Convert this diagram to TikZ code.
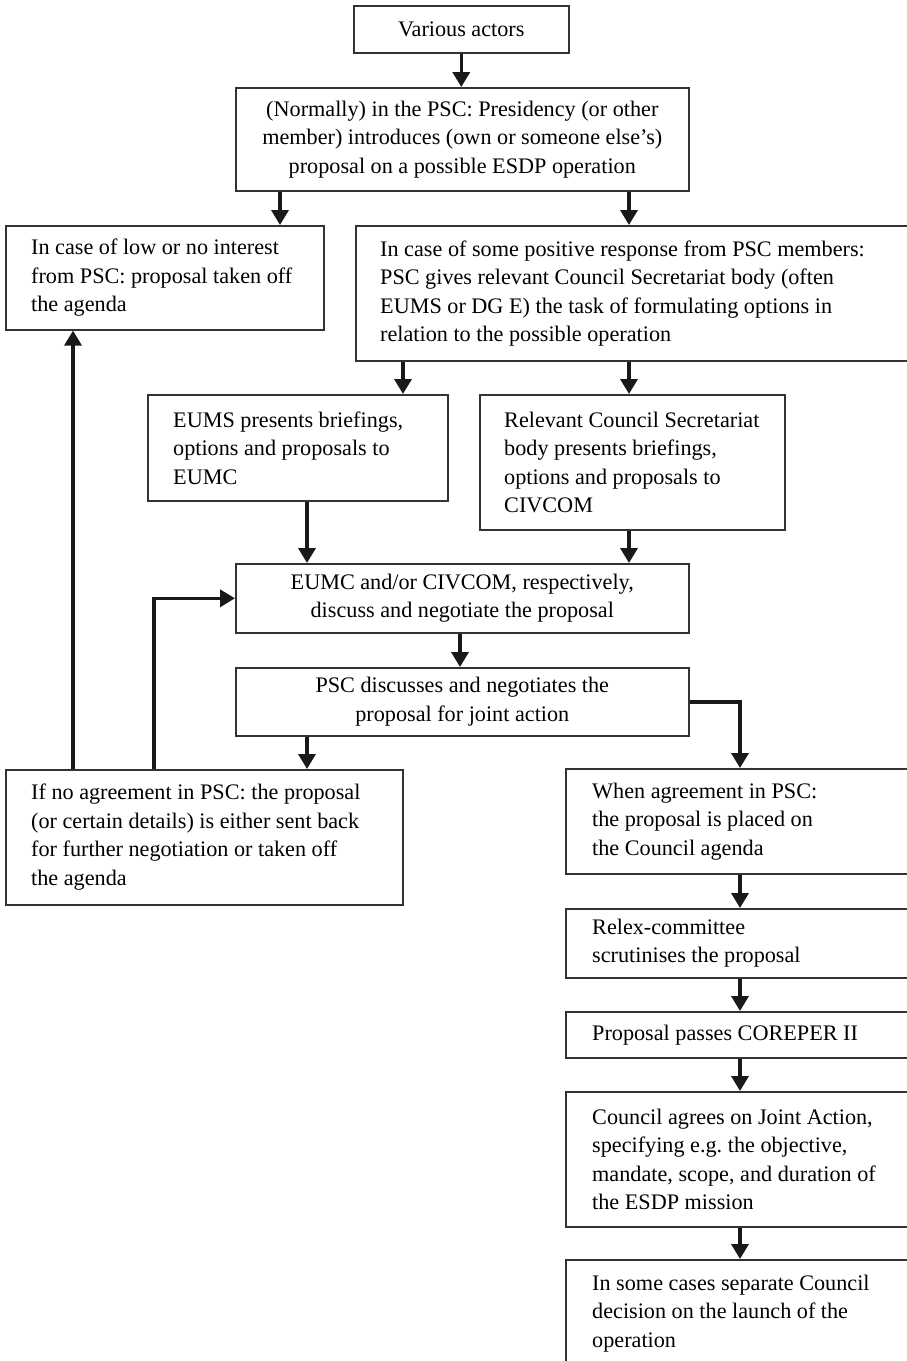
\documentclass[tikz,border=0pt]{standalone}
\usepackage{fontspec}
\setmainfont{Liberation Serif}
\usetikzlibrary{arrows.meta}
\begin{document}
\begin{tikzpicture}[x=1pt,y=-1pt,
  box/.style={draw=black!80, line width=1.6pt, rectangle, inner sep=0pt, anchor=north west},
  txt/.style={inner sep=0pt, anchor=west, align=left, font=\fontsize{22.2}{28.5}\selectfont},
  ctxt/.style={align=center, font=\fontsize{22.2}{28.5}\selectfont},
  arr/.style={line width=3.5pt, draw=black!90, -{Triangle[width=17pt,length=15pt]}},
  ln/.style={line width=3.5pt, draw=black!90}
]
\useasboundingbox (0,0) rectangle (907,1361);
\clip (0,0) rectangle (907,1361);

% boxes
\node[box, ctxt, minimum width=215pt, minimum height=47pt] (b1) at (353,5) {Various actors};
\node[box, ctxt, minimum width=453pt, minimum height=103pt] (b2) at (235,87)
  {(Normally) in the PSC: Presidency (or other\\ member) introduces (own or someone else's)\\ proposal on a possible ESDP operation};
\node[box, minimum width=318pt, minimum height=104pt] (b3) at (5,225) {};
\node[box, minimum width=580pt, minimum height=135pt] (b4) at (355,225) {};
\node[box, minimum width=300pt, minimum height=106pt] (b5) at (147,394) {};
\node[box, minimum width=305pt, minimum height=135pt] (b6) at (479,394) {};
\node[box, ctxt, minimum width=453pt, minimum height=69pt] (b7) at (235,563)
  {EUMC and/or CIVCOM, respectively,\\ discuss and negotiate the proposal};
\node[box, ctxt, minimum width=453pt, minimum height=68pt] (b8) at (235,667)
  {PSC discusses and negotiates the\\ proposal for joint action};
\node[box, minimum width=397pt, minimum height=135pt] (b9) at (5,769) {};
\node[box, minimum width=370pt, minimum height=105pt] (b10) at (565,768) {};
\node[box, minimum width=370pt, minimum height=69pt] (b11) at (565,908) {};
\node[box, minimum width=370pt, minimum height=46pt] (b12) at (565,1011) {};
\node[box, minimum width=370pt, minimum height=135pt] (b13) at (565,1091) {};
\node[box, minimum width=370pt, minimum height=107pt] (b14) at (565,1259) {};

% left-aligned texts
\node[txt] (t3) at ([xshift=26pt]b3.west) {In case of low or no interest\\ from PSC: proposal taken off\\ the agenda};
\node[txt] (t4) at ([xshift=25pt]b4.west) {In case of some positive response from PSC members:\\ PSC gives relevant Council Secretariat body (often\\ EUMS or DG E) the task of formulating options in\\ relation to the possible operation};
\node[txt] (t5) at ([xshift=26pt]b5.west) {EUMS presents briefings,\\ options and proposals to\\ EUMC};
\node[txt] (t6) at ([xshift=25pt]b6.west) {Relevant Council Secretariat\\ body presents briefings,\\ options and proposals to\\ CIVCOM};
\node[txt] (t9) at ([xshift=26pt]b9.west) {If no agreement in PSC: the proposal\\ (or certain details) is either sent back\\ for further negotiation or taken off\\ the agenda};
\node[txt] (t10) at ([xshift=27pt]b10.west) {When agreement in PSC:\\ the proposal is placed on\\ the Council agenda};
\node[txt] (t11) at ([xshift=27pt]b11.west) {Relex-committee\\ scrutinises the proposal};
\node[txt] (t12) at ([xshift=27pt]b12.west) {Proposal passes COREPER II};
\node[txt] (t13) at ([xshift=27pt]b13.west) {Council agrees on Joint Action,\\ specifying e.g.\ the objective,\\ mandate, scope, and duration of\\ the ESDP mission};
\node[txt] (t14) at ([xshift=27pt]b14.west) {In some cases separate Council\\ decision on the launch of the\\ operation};

% connectors
\draw[arr] (b1.south) -- (b1.south |- b2.north);
\draw[arr] ([xshift=45pt]b2.south west) -- ([xshift=275pt]b3.north west);
\draw[arr] ([xshift=394pt]b2.south west) -- ([xshift=274pt]b4.north west);
\draw[arr] ([xshift=48pt]b4.south west) -- ([xshift=256pt]b5.north west);
\draw[arr] ([xshift=274pt]b4.south west) -- ([xshift=150pt]b6.north west);
\draw[arr] ([xshift=160pt]b5.south west) -- ([xshift=72pt]b7.north west);
\draw[arr] ([xshift=150pt]b6.south west) -- ([xshift=394pt]b7.north west);
\draw[arr] ([xshift=225pt]b7.south west) -- ([xshift=225pt]b8.north west);
\draw[arr] ([xshift=72pt]b8.south west) -- ([xshift=302pt]b9.north west);
\draw[arr] (b8.east) -| ([xshift=175pt]b10.north west);
\draw[arr] ([xshift=68pt]b9.north west) -- ([xshift=68pt]b3.south west);
\draw[arr] ([xshift=149pt]b9.north west) |- (b7.west);
\draw[arr] ([xshift=175pt]b10.south west) -- ([xshift=175pt]b11.north west);
\draw[arr] ([xshift=175pt]b11.south west) -- ([xshift=175pt]b12.north west);
\draw[arr] ([xshift=175pt]b12.south west) -- ([xshift=175pt]b13.north west);
\draw[arr] ([xshift=175pt]b13.south west) -- ([xshift=175pt]b14.north west);
\end{tikzpicture}
\end{document}
